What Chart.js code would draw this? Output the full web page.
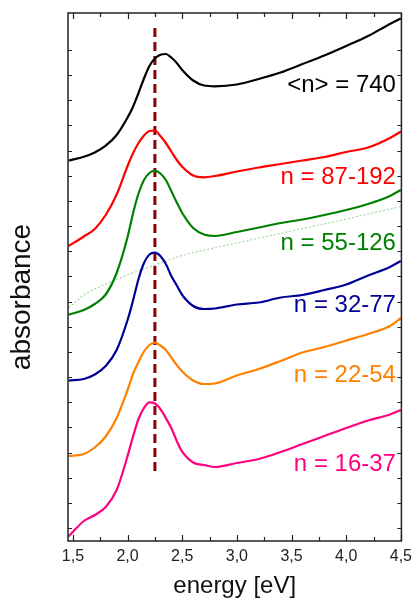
<!DOCTYPE html>
<html lang="en">
<head>
<meta charset="UTF-8">
<title>absorbance vs energy</title>
<script src="https://cdn.jsdelivr.net/npm/chart.js"></script>
<style>
  body { margin: 0; background: #fff; }
  #chart { display: block; }
</style>
</head>
<body>
<canvas id="chart" width="418" height="602"></canvas>
<script>
// values (absorbance in arbitrary, offset units)
const energy = [1.46, 1.6, 1.7, 1.8, 1.9, 2.0, 2.05, 2.1, 2.15, 2.2, 2.25, 2.3, 2.35, 2.4, 2.45, 2.5, 2.6, 2.7, 2.8, 3.0, 3.2, 3.4, 3.6, 3.8, 4.0, 4.2, 4.4, 4.5];
const abs740 = [38.05, 38.43, 38.85, 39.53, 40.6, 42.35, 43.43, 44.8, 46.25, 47.5, 48.25, 48.62, 48.7, 48.35, 47.8, 47.1, 46.05, 45.55, 45.47, 45.65, 46.2, 46.85, 47.7, 48.55, 49.5, 50.5, 51.7, 52.25];
const abs87 = [29.5, 30.45, 31.2, 32.6, 34.65, 37.5, 38.77, 39.8, 40.55, 41.0, 41.05, 40.5, 39.8, 38.95, 38.1, 37.43, 36.55, 36.37, 36.5, 36.95, 37.35, 37.7, 38.05, 38.4, 38.9, 39.35, 40.3, 40.95];
const abs55 = [22.63, 23.1, 23.7, 24.65, 26.8, 30.4, 32.77, 34.75, 36.1, 36.8, 37.03, 36.75, 36.1, 35.0, 33.85, 32.8, 31.3, 30.65, 30.5, 30.9, 31.35, 31.8, 32.15, 32.6, 33.1, 33.7, 34.5, 35.1];
const abs32 = [16.05, 16.2, 16.65, 17.5, 19.1, 22.1, 24.05, 26.2, 27.8, 28.65, 28.83, 28.5, 27.7, 26.5, 25.55, 24.6, 23.5, 23.2, 23.25, 23.65, 23.85, 24.35, 24.6, 25.1, 25.65, 26.55, 27.4, 28.0];
const abs22 = [8.5, 8.7, 9.35, 10.45, 12.3, 15.1, 16.7, 17.9, 18.95, 19.6, 19.83, 19.55, 19.1, 18.35, 17.6, 16.95, 16.05, 15.7, 15.75, 16.55, 17.2, 18.0, 18.85, 19.4, 20.05, 20.7, 21.5, 22.3];
const abs16 = [0.45, 2.0, 2.6, 3.4, 5.1, 8.5, 10.45, 12.2, 13.3, 13.87, 13.75, 13.2, 12.3, 11.3, 10.0, 8.93, 7.85, 7.6, 7.4, 7.8, 8.2, 8.9, 9.7, 10.5, 11.3, 12.05, 12.65, 13.1];

// scattering background under the n = 55-126 curve
const bgEnergy = [1.46, 1.6, 1.7, 1.8, 1.9, 2.0, 2.25, 2.5, 2.75, 3.0, 3.5, 4.0, 4.5];
const bg55 = [23.3, 24.6, 25.2, 25.7, 26.15, 26.6, 27.6, 28.55, 29.2, 29.8, 31.0, 32.2, 33.45];

const seriesNames = ['<n> = 740', 'n = 87-192', 'n = 55-126', 'n = 32-77', 'n = 22-54', 'n = 16-37'];
const xTicks = [1.5, 1.75, 2.0, 2.25, 2.5, 2.75, 3.0, 3.25, 3.5, 3.75, 4.0, 4.25, 4.5];

const peakEnergy = 2.25;
const peakSpan = [7.0, 51.6];

const colors = ['#000000', '#ff0000', '#008000', '#000099', '#ff8000', '#ff007f'];
const labelY = [44.9, 35.7, 29.1, 22.9, 15.9, 7.0];
const labelX = 4.455;

function toPoints(xs, ys) {
    return xs.map((v, i) => ({ x: v, y: ys[i] }));
}

const curves = [abs740, abs87, abs55, abs32, abs22, abs16];

const datasets = curves.map((vals, i) => ({
    label: seriesNames[i],
    data: toPoints(energy, vals),
    borderColor: colors[i],
    borderWidth: 2.2,
    pointRadius: 0,
    cubicInterpolationMode: 'monotone',
    fill: false
}));

datasets.push({
    label: 'background',
    data: toPoints(bgEnergy, bg55),
    borderColor: '#9fd89f',
    borderWidth: 1.2,
    borderDash: [2, 2],
    pointRadius: 0,
    cubicInterpolationMode: 'monotone',
    fill: false
});

datasets.push({
    label: 'peak',
    data: [{ x: peakEnergy, y: peakSpan[0] }, { x: peakEnergy, y: peakSpan[1] }],
    borderColor: '#8b0000',
    borderWidth: 3,
    borderDash: [9, 5],
    pointRadius: 0,
    fill: false
});

// frame, inward ticks on all four sides, series labels and y title
const decor = {
    id: 'decor',
    afterDatasetsDraw(chart) {
        const { ctx, chartArea: a, scales: { x, y } } = chart;
        ctx.save();
        ctx.strokeStyle = '#222';
        ctx.lineWidth = 1.5;
        ctx.strokeRect(a.left, a.top, a.right - a.left, a.bottom - a.top);

        ctx.lineWidth = 1.2;
        ctx.beginPath();
        x.ticks.forEach(t => {
            const px = Math.round(x.getPixelForValue(t.value)) + 0.5;
            const major = Math.abs(t.value * 2 - Math.round(t.value * 2)) < 1e-6;
            const len = major ? 6 : 4;
            ctx.moveTo(px, a.bottom); ctx.lineTo(px, a.bottom - len);
            ctx.moveTo(px, a.top); ctx.lineTo(px, a.top + len);
        });
        y.ticks.forEach(t => {
            const py = Math.round(y.getPixelForValue(t.value)) + 0.5;
            ctx.moveTo(a.left, py); ctx.lineTo(a.left + 4, py);
            ctx.moveTo(a.right, py); ctx.lineTo(a.right - 4, py);
        });
        ctx.stroke();

        ctx.font = '24px "Liberation Sans", Arial, sans-serif';
        ctx.textAlign = 'right';
        ctx.textBaseline = 'alphabetic';
        seriesNames.forEach((name, i) => {
            ctx.fillStyle = colors[i];
            ctx.fillText(name, x.getPixelForValue(labelX), y.getPixelForValue(labelY[i]));
        });

        ctx.fillStyle = '#111';
        ctx.font = '28px "Liberation Sans", Arial, sans-serif';
        ctx.textAlign = 'center';
        ctx.textBaseline = 'middle';
        ctx.translate(22, a.top + (a.bottom - a.top) / 2 + 20);
        ctx.rotate(-Math.PI / 2);
        ctx.fillText('absorbance', 0, 0);
        ctx.restore();
    }
};

new Chart(document.getElementById('chart'), {
    type: 'line',
    data: { datasets: datasets },
    options: {
        responsive: false,
        animation: false,
        layout: { padding: { left: 68, right: 11, top: 13, bottom: 0 } },
        plugins: {
            legend: { display: false },
            tooltip: { enabled: false }
        },
        scales: {
            x: {
                type: 'linear',
                min: 1.455,
                max: 4.505,
                afterBuildTicks: s => { s.ticks = xTicks.map(v => ({ value: v })); },
                grid: { display: false, drawTicks: false },
                border: { display: false },
                ticks: {
                    autoSkip: false,
                    maxRotation: 0,
                    padding: 6,
                    color: '#222',
                    font: { family: '"Liberation Sans", Arial, sans-serif', size: 16 },
                    callback: v => (Math.abs(v * 2 - Math.round(v * 2)) < 1e-6) ? v.toFixed(1).replace('.', ',') : ''
                },
                title: {
                    display: true,
                    text: 'energy [eV]',
                    color: '#111',
                    padding: { top: 0, bottom: 1 },
                    font: { family: '"Liberation Sans", Arial, sans-serif', size: 24 }
                }
            },
            y: {
                min: 0,
                max: 52.8,
                afterBuildTicks: s => {
                    const t = [];
                    for (let k = 0; k < 20; k++) t.push({ value: 1.3 + k * 2.516 });
                    s.ticks = t;
                },
                grid: { display: false, drawTicks: false },
                border: { display: false },
                ticks: { display: false }
            }
        }
    },
    plugins: [decor]
});
</script>
</body>
</html>
